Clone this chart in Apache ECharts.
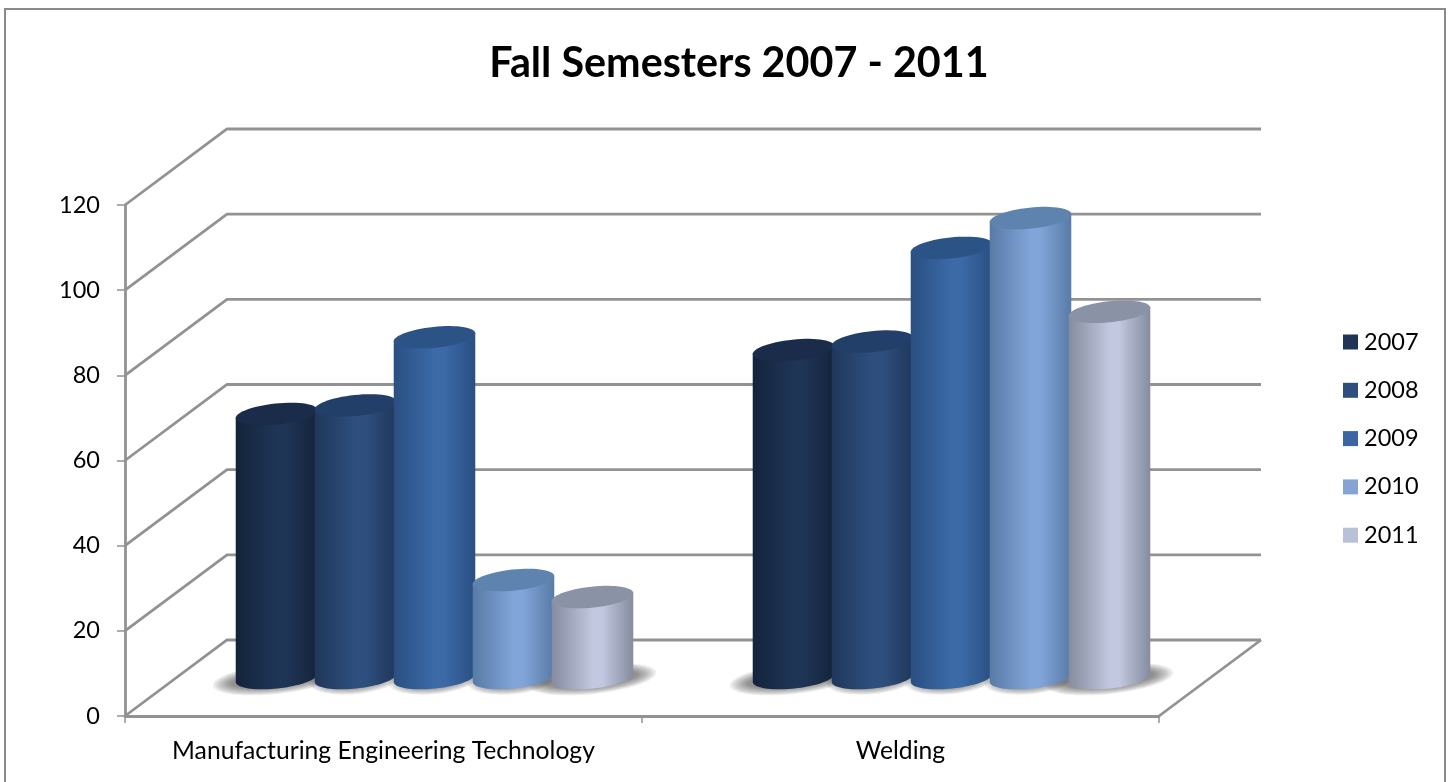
<!DOCTYPE html>
<html><head><meta charset="utf-8">
<style>html,body{margin:0;padding:0;background:#fff;overflow:hidden}#c{width:1451px;height:782px}</style>
<script src="https://cdn.jsdelivr.net/npm/echarts@6/dist/echarts.min.js"></script>
</head><body><div id="c"></div>
<script>
const categories = ['Manufacturing Engineering Technology', 'Welding'];
const years = ['2007', '2008', '2009', '2010', '2011'];
const values2007 = [62, 77];
const values2008 = [64, 79];
const values2009 = [80, 101];
const values2010 = [23, 108];
const values2011 = [19, 86];
const yTicks = [0, 20, 40, 60, 80, 100, 120];

const allValues = [values2007, values2008, values2009, values2010, values2011];
const legendColors = ['#1f3557', '#2e4f7e', '#3b66a3', '#85a3d3', '#b9c1d6'];
const edgeColors = ['#14233b', '#1f375a', '#2a4f82', '#587aa6', '#858c9f'];
const midColors = ['#1f3556', '#2e4f7e', '#3b6aa7', '#82a5d9', '#c1c8df'];
const topColors = ['#1a2c49', '#223f69', '#2b5385', '#5f83af', '#8a93a6'];

const depthX = 102, depthY = 76;     // full depth of the 3D box
const midX = 51, midY = 38;          // bars stand in the middle of the depth
const pitch = 79, rx = 41, ry = 10.5, tilt = 6 * Math.PI / 180;
const ca = Math.cos(tilt), sa = Math.sin(tilt);
const grey = '#929292';

function ell(cx, cy, t) {
  const a = rx * Math.cos(t), b = ry * Math.sin(t);
  return [cx + a * ca + b * sa, cy - a * sa + b * ca];
}
function cylinder(s) {
  return function (params, api) {
    const i = api.value(0), v = api.value(1);
    const base = api.coord([i, 0]), top = api.coord([i, v]);
    const cx = base[0] + midX + (s - 2) * pitch;
    const by = base[1] - midY, ty = top[1] - midY;
    const body = [ell(cx, ty, Math.PI)];
    for (let k = 0; k <= 40; k++) body.push(ell(cx, by, Math.PI - Math.PI * k / 40));
    body.push(ell(cx, ty, 0));
    const cap = [];
    for (let k = 0; k < 60; k++) cap.push(ell(cx, ty, 2 * Math.PI * k / 60));
    return {
      type: 'group',
      children: [
        { type: 'polygon', shape: { points: body },
          style: { fill: new echarts.graphic.LinearGradient(0, 0, 1, 0, [
            { offset: 0, color: edgeColors[s] },
            { offset: 0.5, color: midColors[s] },
            { offset: 0.62, color: midColors[s] },
            { offset: 1, color: edgeColors[s] }]) } },
        { type: 'polygon', shape: { points: cap }, style: { fill: topColors[s] } }
      ]
    };
  };
}
const wallSeries = {
  type: 'custom', name: 'walls', silent: true, z: 1,
  data: yTicks.map(v => [0, v]), encode: { x: 0, y: 1 },
  renderItem(params, api) {
    const g = params.coordSys;
    const y = api.coord([0, api.value(1)])[1];
    const kids = [{ type: 'polyline',
      shape: { points: [[g.x, y], [g.x + depthX, y - depthY], [g.x + g.width + depthX, y - depthY]] },
      style: { stroke: grey, lineWidth: 2.8, fill: null } }];
    if (api.value(1) === 0) kids.push({ type: 'line',
      shape: { x1: g.x + g.width, y1: y, x2: g.x + g.width + depthX, y2: y - depthY },
      style: { stroke: grey, lineWidth: 2.8 } });
    return { type: 'group', children: kids };
  }
};
const shadowLayers = [0, 1, 2, 3, 4, 5, 6, 7];
const shadowSeries = {
  type: 'custom', name: 'shadow', silent: true, z: 2,
  data: categories.map((c, i) => [i, 0]), encode: { x: 0, y: 1 },
  renderItem(params, api) {
    const b = api.coord([api.value(0), 0]);
    const cy = b[1] - midY + 1;
    const kids = [];
    years.forEach((y, s) => {
      const cx = b[0] + midX + (s - 2) * pitch;
      const shift = s === 0 ? -22 : s === 4 ? 22 : 0;
      const outer = s === 0 || s === 4 ? 64 : 46;
      shadowLayers.forEach(k => kids.push({ type: 'ellipse',
        shape: { cx: 0, cy: 0, rx: outer - k * 2.6, ry: 15 - k * 1.0 },
        x: cx + shift * 0.0 + (s === 0 ? -1 : s === 4 ? 1 : 0) * 0,
        y: cy, rotation: tilt,
        style: { fill: '#2e2e2e', opacity: 0.085 } }));
    });
    return { type: 'group', children: kids };
  }
};
const barSeries = years.map((y, s) => ({
  type: 'custom', name: y, z: 3, renderItem: cylinder(s),
  itemStyle: { color: legendColors[s] },
  encode: { x: 0, y: 1 },
  data: categories.map((c, i) => [i, allValues[s][i]])
}));

const font = 'Lato';
const chart = echarts.init(document.getElementById('c'), null, { renderer: 'canvas' });
chart.setOption({
  animation: false,
  backgroundColor: '#fff',
  title: { text: 'Fall Semesters 2007 - 2011', left: 734, top: 38, textAlign: 'center',
    textStyle: { fontFamily: font, fontWeight: 'bold', fontSize: 41.3, color: '#000' } },
  legend: { orient: 'vertical', left: 1338, top: 325, itemWidth: 15, itemHeight: 15, itemGap: 24.3,
    data: years, icon: 'rect',
    textStyle: { fontFamily: font, fontSize: 23.5, color: '#000', padding: [0, 0, 0, 1] } },
  graphic: [{ type: 'rect', z: 100, silent: true, shape: { x: 5, y: 9, width: 1440, height: 800 },
    style: { fill: null, stroke: '#8a8a8a', lineWidth: 2 } }],
  grid: { left: 125, top: 205, width: 1034, height: 511 },
  xAxis: { type: 'category', data: categories, boundaryGap: true,
    axisLine: { show: true, lineStyle: { color: grey, width: 2.8 } },
    axisTick: { show: true, interval: 0, length: 7, lineStyle: { color: grey, width: 1.5 } },
    axisLabel: { interval: 0, fontFamily: font, fontSize: 24.7, color: '#000', margin: 23 } },
  yAxis: { type: 'value', min: 0, max: 120, interval: 20,
    splitLine: { show: false },
    axisLine: { show: true, lineStyle: { color: grey, width: 2.8 } },
    axisTick: { show: true, length: 8, lineStyle: { color: grey, width: 1.5 } },
    axisLabel: { fontFamily: font, fontSize: 23.5, color: '#000', margin: 25 } },
  series: [wallSeries, shadowSeries].concat(barSeries)
});
</script></body></html>
